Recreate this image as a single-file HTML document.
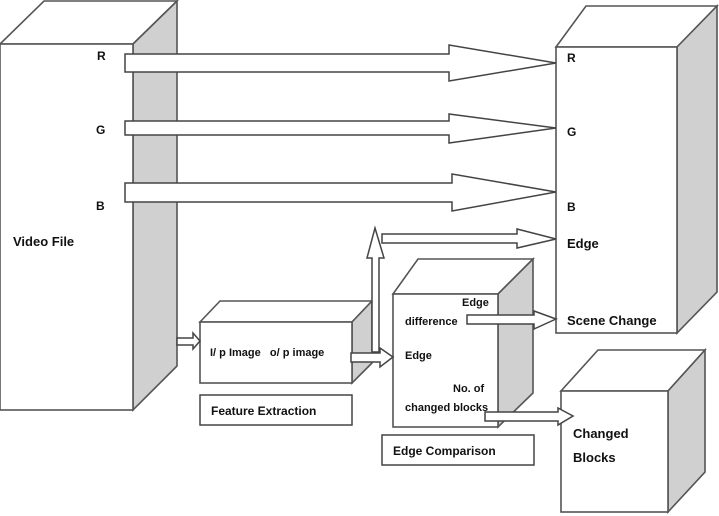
<!DOCTYPE html>
<html><head><meta charset="utf-8"><style>
html,body{margin:0;padding:0;background:#fff;width:719px;height:516px;overflow:hidden}
svg{display:block}
text{font-family:"Liberation Sans",sans-serif;font-weight:bold;fill:#111}
</style></head><body>
<svg width="719" height="516" viewBox="0 0 719 516">
<g stroke="#555" stroke-width="1.6" stroke-linejoin="miter">
<!-- Video File -->
<polygon points="0,44 44,1 177,1 133,44" fill="#fff"/>
<polygon points="133,44 177,1 177,366 133,410" fill="#d0d0d0"/>
<rect x="0" y="44" width="133" height="366" fill="#fff"/>
<!-- Scene box -->
<polygon points="556,47 586,6 717,6 677,47" fill="#fff"/>
<polygon points="677,47 717,6 717,292 677,333" fill="#d0d0d0"/>
<rect x="556" y="47" width="121" height="286" fill="#fff"/>
<!-- Changed Blocks -->
<polygon points="561,391 598,350 705,350 668,391" fill="#fff"/>
<polygon points="668,391 705,350 705,472 668,512" fill="#d0d0d0"/>
<rect x="561" y="391" width="107" height="121" fill="#fff"/>
<!-- Feature extraction -->
<polygon points="200,322 220,301 372,301 352,322" fill="#fff"/>
<polygon points="352,322 372,301 372,363 352,383" fill="#d0d0d0"/>
<rect x="200" y="322" width="152" height="61" fill="#fff"/>
<!-- Edge comparison -->
<polygon points="393,294 418,259 533,259 498,294" fill="#fff"/>
<polygon points="498,294 533,259 533,393 498,427" fill="#d0d0d0"/>
<rect x="393" y="294" width="105" height="133" fill="#fff"/>
</g>
<g fill="#fff" stroke="#444" stroke-width="1.5">
<rect x="200" y="395" width="152" height="30"/>
<rect x="382" y="435" width="152" height="30"/>
<!-- big arrows -->
<polygon points="125,54 449,54 449,45 556,63 449,81 449,72 125,72"/>
<polygon points="125,121 449,121 449,114 556,128 449,143 449,135 125,135"/>
<polygon points="125,183 452,183 452,174 556,192 452,211 452,202 125,202"/>
<!-- edge arrow -->
<polygon points="382,234 517,234 517,229 556,239 517,248 517,243 382,243"/>
<!-- vertical arrow -->
<polygon points="372,352 372,258 367,258 375,228 384,258 379,258 379,352"/>
<!-- small arrows -->
<polygon points="177,338 193,338 193,333 200,341 193,349 193,345 177,345"/>
<polygon points="351,353 380,353 380,348 393,357 380,367 380,362 351,362"/>
<polygon points="467,315 534,315 534,311 556,319 534,329 534,324 467,324"/>
<polygon points="485,412 558,412 558,408 573,416 558,425 558,421 485,421"/>
</g>
<g font-size="12">
<text x="97" y="60">R</text>
<text x="96" y="134">G</text>
<text x="96" y="210">B</text>
<text x="13" y="246" font-size="13">Video File</text>
<text x="567" y="62">R</text>
<text x="567" y="136">G</text>
<text x="567" y="211">B</text>
<text x="567" y="248" font-size="13">Edge</text>
<text x="567" y="325" font-size="13">Scene Change</text>
<text x="573" y="438" font-size="13">Changed</text>
<text x="573" y="462" font-size="13">Blocks</text>
<text x="210" y="356" font-size="11">I/ p Image&#160;&#160; o/ p image</text>
<text x="211" y="415">Feature Extraction</text>
<text x="393" y="455">Edge Comparison</text>
<text x="462" y="306" font-size="11">Edge</text>
<text x="405" y="325" font-size="11">difference</text>
<text x="405" y="359" font-size="11">Edge</text>
<text x="453" y="392" font-size="11">No. of</text>
<text x="405" y="411" font-size="11">changed blocks</text>
</g>
</svg>
</body></html>
